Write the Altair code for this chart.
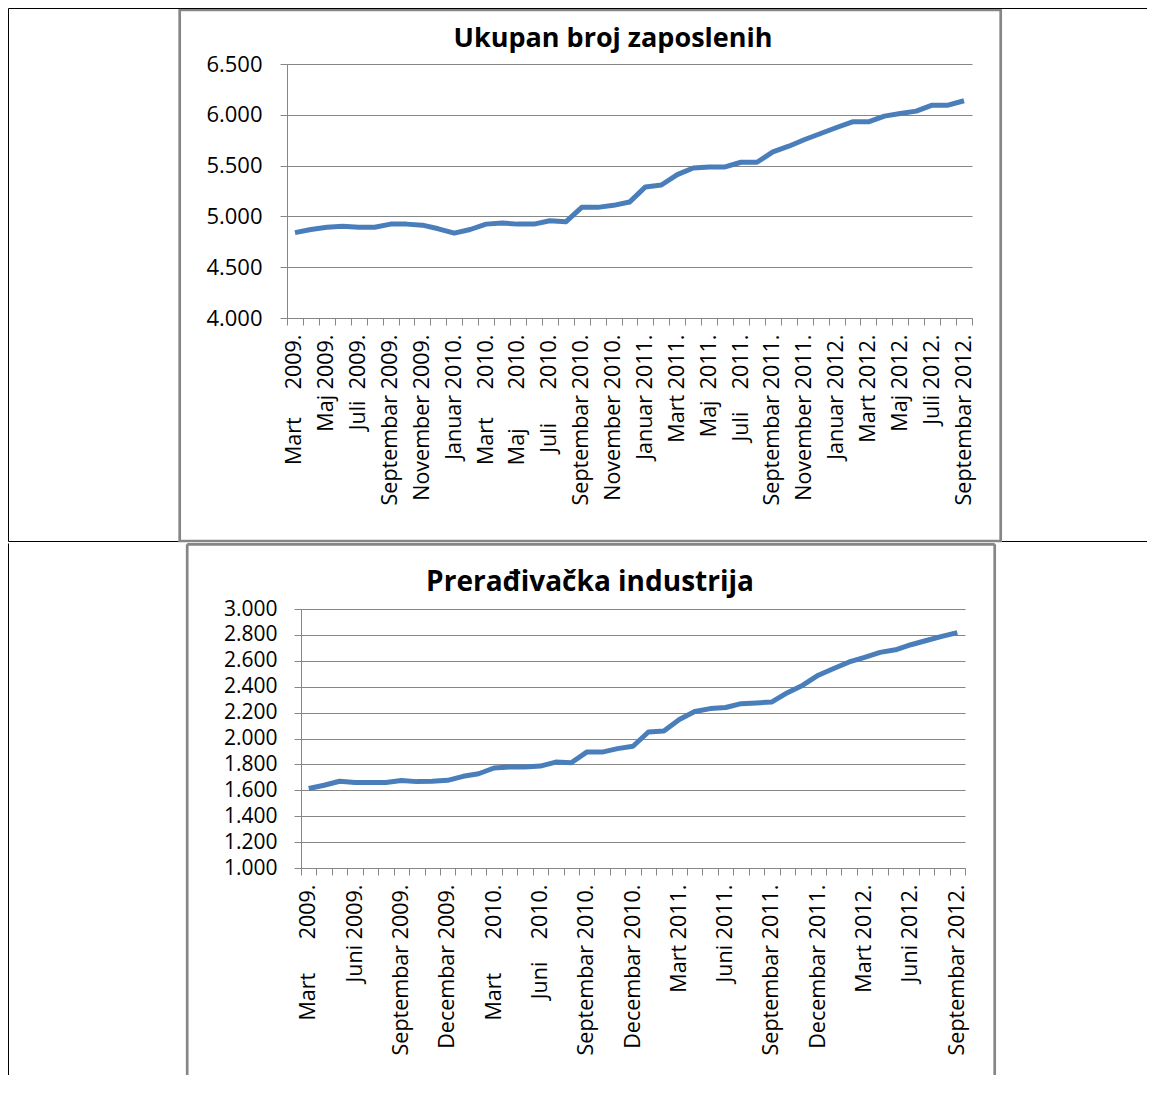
import json
import altair as alt
import pandas as pd

NB = "\u00a0"

# ---- data ----
total_employed = [4840, 4871, 4894, 4904, 4894, 4894, 4924, 4924, 4914, 4878,
                  4835, 4871, 4924, 4934, 4924, 4924, 4957, 4947, 5089, 5089,
                  5109, 5141, 5290, 5309, 5411, 5477, 5487, 5487, 5533, 5533,
                  5635, 5691, 5757, 5816, 5875, 5931, 5931, 5987, 6013, 6036,
                  6095, 6095, 6138]

manufacturing = [1614, 1639, 1670, 1660, 1660, 1660, 1675, 1667, 1670, 1677,
                 1708, 1728, 1772, 1780, 1780, 1787, 1818, 1813, 1895, 1895,
                 1922, 1940, 2050, 2058, 2147, 2208, 2231, 2239, 2269, 2275,
                 2282, 2354, 2412, 2489, 2540, 2591, 2627, 2665, 2685, 2724,
                 2757, 2788, 2818]

top_tick_labels = ["Mart" + NB * 5 + "2009.", "Maj 2009.", "Juli" + NB * 2 + "2009.",
                   "Septembar 2009.", "November 2009.", "Januar 2010.",
                   "Mart" + NB * 5 + "2010.", "Maj" + NB * 7 + "2010.", "Juli" + NB * 6 + "2010.",
                   "Septembar 2010.", "November 2010.", "Januar 2011.", "Mart 2011.",
                   "Maj" + NB * 2 + "2011.", "Juli" + NB * 4 + "2011.", "Septembar 2011.",
                   "November 2011.", "Januar 2012.", "Mart 2012.", "Maj 2012.",
                   "Juli 2012.", "Septembar 2012."]

bottom_tick_labels = ["Mart" + NB * 6 + "2009.", "Juni 2009.", "Septembar 2009.",
                      "Decembar 2009.", "Mart" + NB * 6 + "2010.", "Juni" + NB * 4 + "2010.",
                      "Septembar 2010.", "Decembar 2010.", "Mart 2011.", "Juni 2011.",
                      "Septembar 2011.", "Decembar 2011.", "Mart 2012.", "Juni 2012.",
                      "Septembar 2012."]

titles = ["Ukupan broj zaposlenih", "Prerađivačka industrija"]

GRAY = "#868686"
BLUE = "#4A7EBB"
FONT = "Open Sans"


def hrule(x1, x2, y, color="black", w=1.0):
    return alt.Chart(alt.Data(values=[{"k": 0}])).mark_rule(
        color=color, strokeWidth=w).encode(
        x=alt.value(x1), x2=alt.value(x2), y=alt.value(y))


def vrule(x, y1, y2, color="black", w=1.0):
    return alt.Chart(alt.Data(values=[{"k": 0}])).mark_rule(
        color=color, strokeWidth=w).encode(
        x=alt.value(x), y=alt.value(y1), y2=alt.value(y2))


def panel(values, labels, step, title, x_range, ymin, ymax, ystep,
          y_offset, y_label_size, y_label_pad, title_x, title_y, title_size):
    df = pd.DataFrame({"idx": list(range(len(values))), "value": values})
    label_expr = ("datum.value % " + str(step) + " == 0 ? "
                  + json.dumps(labels, ensure_ascii=False)
                  + "[datum.value / " + str(step) + "] : ''")
    line = alt.Chart(df).mark_line(color=BLUE, strokeWidth=5, strokeJoin="round").encode(
        x=alt.X("idx:O", bandPosition=0.5,
                scale=alt.Scale(type="band", paddingInner=0, paddingOuter=0,
                                range=x_range),
                axis=alt.Axis(title=None, labelAngle=270, labelAlign="right",
                              labelBaseline="middle", labelExpr=label_expr,
                              labelOverlap=False, tickBand="extent", tickSize=7,
                              labelPadding=9, domainColor=GRAY, tickColor=GRAY,
                              grid=False, labelFontSize=21.5, labelFont=FONT,
                              labelColor="black", labelBound=False, labelFlush=False)),
        y=alt.Y("value:Q",
                scale=alt.Scale(domain=[ymin, ymax], nice=False, zero=False),
                axis=alt.Axis(title=None, values=list(range(ymin, ymax + 1, ystep)),
                              labelExpr="replace(format(datum.value, ',.0f'), ',', '.')",
                              grid=True, gridColor=GRAY, tickSize=7,
                              labelPadding=y_label_pad, offset=y_offset,
                              domainColor=GRAY, tickColor=GRAY,
                              labelFontSize=y_label_size,
                              labelFont=FONT, labelColor="black")),
    )
    ttl = alt.Chart(alt.Data(values=[{"t": title}])).mark_text(
        font=FONT, fontSize=title_size, fontWeight="bold", color="black",
        align="center", baseline="alphabetic").encode(
        text="t:N", x=alt.value(title_x), y=alt.value(title_y))
    return line, ttl


# both panels share the same group origin x (page 301)
# top panel: plot spans page x 287..972, y 64..318
l1, t1 = panel(total_employed, top_tick_labels, 2, titles[0], [-14, 671],
               4000, 6500, 500, 14, 22, 18, 312, -17, 27)
top_frame = alt.Chart(alt.Data(values=[{"k": 0}])).mark_rect(
    fillOpacity=0, stroke=GRAY, strokeWidth=2.7).encode(
    x=alt.value(-121.3), x2=alt.value(699.7), y=alt.value(-54.2), y2=alt.value(477))
top = alt.layer(
    top_frame,
    hrule(-292.5, 846, -55.5),
    hrule(-292.5, -122.6, 477.5),
    hrule(701, 846, 477.5),
    vrule(-292.5, -55.5, 477.5),
    l1, t1,
).properties(width=671, height=254)

# bottom panel: plot spans page x 301..965, y 608..867
l2, t2 = panel(manufacturing, bottom_tick_labels, 3, titles[1], [0, 664],
               1000, 3000, 200, 0, 21, 17, 289, -18, 28)
bottom = alt.layer(
    vrule(-292.5, -65.5, 466),
    hrule(-113.8, 693.7, -64.65, GRAY, 2.7),
    vrule(-113.8, -64.65, 466, GRAY, 2.7),
    vrule(693.7, -64.65, 466, GRAY, 2.7),
    l2, t2,
).properties(width=664, height=259)

chart = alt.vconcat(top, bottom, spacing=0).properties(
    padding=0, background="white"
).configure(font=FONT).configure_view(strokeWidth=0, stroke="transparent")

chart.save("out.html", embed_options={"renderer": "svg", "actions": False})
